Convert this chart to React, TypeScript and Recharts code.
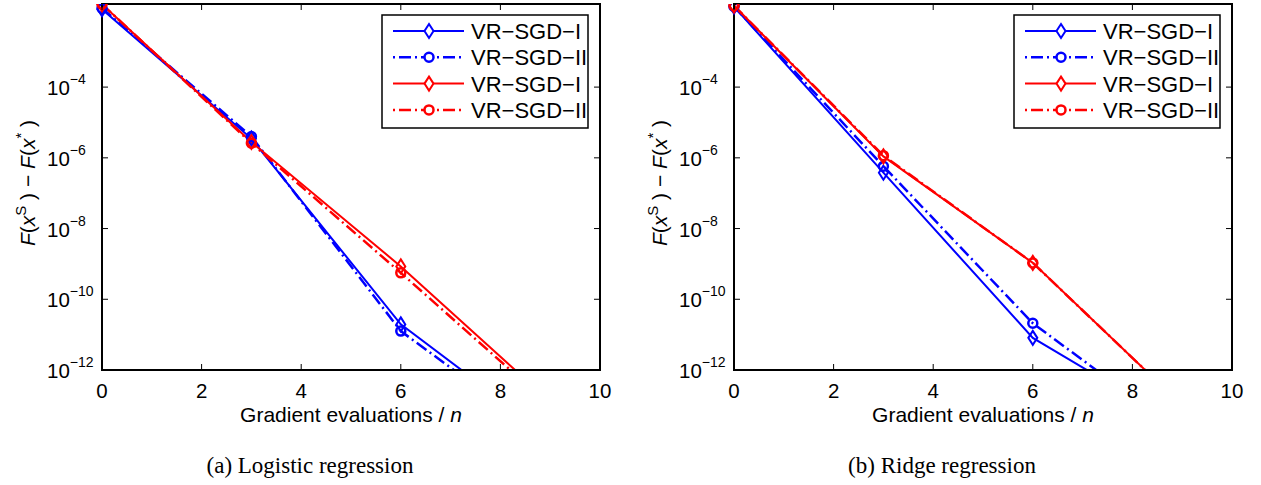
import React from "react";
import { LineChart, Line, XAxis, YAxis, ReferenceArea, Legend } from "recharts";

// x positions (gradient evaluations / n) where each method was recorded
const EPOCHS = [0, 3, 6, 9];

// (a) logistic regression, F(x^s) - F(x*)
const LOGISTIC_BLUE_I = [1.6e-2, 3.5e-6, 1.95e-11, 1.3e-14];
const LOGISTIC_BLUE_II = [1.7e-2, 4.0e-6, 1.26e-11, 1.0e-14];
const LOGISTIC_RED_I = [2.2e-2, 2.8e-6, 8.5e-10, 1.26e-13];
const LOGISTIC_RED_II = [2.2e-2, 2.6e-6, 5.6e-10, 1.0e-13];

// (b) ridge regression
const RIDGE_BLUE_I = [1.9e-2, 3.8e-7, 8.1e-12, 2.5e-14];
const RIDGE_BLUE_II = [1.9e-2, 5.8e-7, 2.1e-11, 1.6e-14];
const RIDGE_RED_I = [2.0e-2, 1.1e-6, 1.07e-9, 1.0e-13];
const RIDGE_RED_II = [2.0e-2, 1.15e-6, 1.07e-9, 1.0e-13];

const X_TICKS = [0, 2, 4, 6, 8, 10];
const Y_TICKS = [1e-12, 1e-10, 1e-8, 1e-6, 1e-4];
const Y_MIN = 1e-12;
const Y_MAX = 2.24e-2;

const SERIES = [
  { key: "blueI", name: "VR\u2212SGD\u2212I", color: "#0000ff", dash: undefined, marker: "diamond" },
  { key: "blueII", name: "VR\u2212SGD\u2212II", color: "#0000ff", dash: "12 4 2 4", marker: "circle" },
  { key: "redI", name: "VR\u2212SGD\u2212I", color: "#ff0000", dash: undefined, marker: "diamond" },
  { key: "redII", name: "VR\u2212SGD\u2212II", color: "#ff0000", dash: "12 4 2 4", marker: "circle" },
];

const buildRows = (blueI: number[], blueII: number[], redI: number[], redII: number[]) =>
  EPOCHS.map((x, i) => ({ x, blueI: blueI[i], blueII: blueII[i], redI: redI[i], redII: redII[i] }));

const logisticData = buildRows(LOGISTIC_BLUE_I, LOGISTIC_BLUE_II, LOGISTIC_RED_I, LOGISTIC_RED_II);
const ridgeData = buildRows(RIDGE_BLUE_I, RIDGE_BLUE_II, RIDGE_RED_I, RIDGE_RED_II);

const FONT = "'Liberation Sans', Arial, sans-serif";
const CHART_W = 620;
const CHART_H = 440;
const MARGIN = { top: 4, right: 20, bottom: 40, left: 42 };
const Y_AXIS_W = 60;
const X_AXIS_H = 30;
const PLOT_LEFT = MARGIN.left + Y_AXIS_W;
const PLOT_RIGHT = CHART_W - MARGIN.right;
const PLOT_TOP = MARGIN.top;
const PLOT_BOTTOM = CHART_H - MARGIN.bottom - X_AXIS_H;
const TICK_LEN = 6;

function markerShape(kind: string, cx: number, cy: number, color: string, fill: string, key?: string) {
  if (kind === "diamond") {
    return (
      <path
        key={key}
        d={`M${cx},${cy - 7} L${cx + 4.5},${cy} L${cx},${cy + 7} L${cx - 4.5},${cy} Z`}
        fill={fill}
        stroke={color}
        strokeWidth={2}
      />
    );
  }
  return <circle key={key} cx={cx} cy={cy} r={4.5} fill={fill} stroke={color} strokeWidth={2.5} />;
}

const makeDot = (kind: string, color: string) => (props: any) => {
  const { cx, cy, index } = props;
  if (cx == null || cy == null || isNaN(cy)) return <g key={`e${index}`} />;
  return markerShape(kind, cx, cy, color, "none", `m${index}`);
};

const XTick = (props: any) => {
  const { x, payload } = props;
  return (
    <g>
      <line x1={x} x2={x} y1={PLOT_BOTTOM} y2={PLOT_BOTTOM - TICK_LEN} stroke="#000" />
      <line x1={x} x2={x} y1={PLOT_TOP} y2={PLOT_TOP + TICK_LEN} stroke="#000" />
      <text x={x} y={PLOT_BOTTOM + 28} textAnchor="middle" fontSize={20.5} fontFamily={FONT} fill="#000">
        {payload.value}
      </text>
    </g>
  );
};

const YTick = (props: any) => {
  const { y, payload } = props;
  const exp = Math.round(Math.log10(payload.value));
  return (
    <g>
      <line x1={PLOT_LEFT} x2={PLOT_LEFT + TICK_LEN} y1={y} y2={y} stroke="#000" />
      <line x1={PLOT_RIGHT} x2={PLOT_RIGHT - TICK_LEN} y1={y} y2={y} stroke="#000" />
      <text x={PLOT_LEFT - 55} y={y + 8} fontSize={20.5} fontFamily={FONT} fill="#000">
        10
        <tspan dy={-11} fontSize={14}>{`\u2212${Math.abs(exp)}`}</tspan>
      </text>
    </g>
  );
};

const XLabel = () => (
  <text x={(PLOT_LEFT + PLOT_RIGHT) / 2} y={422} textAnchor="middle" fontSize={21} fontFamily={FONT} fill="#000">
    Gradient evaluations /{" "}
    <tspan fontStyle="italic">n</tspan>
  </text>
);

const YLabel = () => (
  <text
    x={35}
    y={183}
    transform="rotate(-90, 35, 183)"
    textAnchor="middle"
    fontSize={21}
    fontFamily={FONT}
    fill="#000"
  >
    <tspan fontStyle="italic">F</tspan>(<tspan fontStyle="italic">x</tspan>
    <tspan dy={-9} fontSize={15}>S</tspan>
    <tspan dy={9}> ) {"\u2212"} </tspan>
    <tspan fontStyle="italic">F</tspan>(<tspan fontStyle="italic">x</tspan>
    <tspan dy={-9} fontSize={15}>*</tspan>
    <tspan dy={9}> )</tspan>
  </text>
);

const LEGEND_W = 208;
const LEGEND_H = 115;

const LegendBox = () => (
  <svg width={LEGEND_W} height={LEGEND_H} style={{ display: "block" }}>
    <rect x={1} y={1} width={LEGEND_W - 2} height={LEGEND_H - 2} fill="#fff" stroke="#000" strokeWidth={1.5} />
    {SERIES.map((s, i) => {
      const cy = 17 + i * 26.3;
      return (
        <g key={s.key}>
          <line
            x1={12}
            x2={83}
            y1={cy}
            y2={cy}
            stroke={s.color}
            strokeWidth={s.dash ? 2.5 : 2}
            strokeDasharray={s.dash}
            strokeDashoffset={s.dash ? 16 : undefined}
          />
          {markerShape(s.marker, 48, cy, s.color, "#fff")}
          <text x={90} y={cy + 8} fontSize={22} fontFamily={FONT} fill="#000">
            {s.name}
          </text>
        </g>
      );
    })}
  </svg>
);

function Panel({ left, data, caption }: { left: number; data: any[]; caption: string }) {
  return (
    <div style={{ position: "absolute", left, top: 0, width: CHART_W, height: 485 }}>
      <LineChart width={CHART_W} height={CHART_H} data={data} margin={MARGIN}>
        <XAxis
          type="number"
          dataKey="x"
          domain={[0, 10]}
          ticks={X_TICKS}
          interval={0}
          height={X_AXIS_H}
          tickLine={false}
          axisLine={{ stroke: "#000", strokeWidth: 2 }}
          tick={<XTick />}
          label={XLabel}
        />
        <YAxis
          type="number"
          scale="log"
          domain={[Y_MIN, Y_MAX]}
          allowDataOverflow
          ticks={Y_TICKS}
          interval={0}
          width={Y_AXIS_W}
          tickLine={false}
          axisLine={{ stroke: "#000", strokeWidth: 2 }}
          tick={<YTick />}
          label={YLabel}
        />
        <ReferenceArea x1={0} x2={10} y1={Y_MIN} y2={Y_MAX} fill="none" stroke="#000" strokeWidth={2} />
        {SERIES.map((s) => (
          <Line
            key={s.key}
            type="linear"
            dataKey={s.key}
            name={s.name}
            stroke={s.color}
            strokeWidth={s.dash ? 2.5 : 2}
            strokeDasharray={s.dash}
            dot={makeDot(s.marker, s.color)}
            activeDot={false}
            isAnimationActive={false}
          />
        ))}
        <Legend
          layout="vertical"
          align="center"
          verticalAlign="middle"
          content={<LegendBox />}
          wrapperStyle={{ left: PLOT_RIGHT - 11 - LEGEND_W, top: 14, width: LEGEND_W, height: LEGEND_H }}
        />
      </LineChart>
      <div
        style={{
          position: "absolute",
          left: 0,
          top: 454,
          width: CHART_W,
          textAlign: "center",
          fontFamily: "'Liberation Serif', 'Times New Roman', serif",
          fontSize: 23,
          lineHeight: "23px",
          color: "#000",
        }}
      >
        {caption}
      </div>
    </div>
  );
}

export default function App() {
  return (
    <div style={{ position: "absolute", left: 0, top: 0, width: 1261, height: 485, background: "#fff" }}>
      <Panel left={0} data={logisticData} caption="(a) Logistic regression" />
      <Panel left={632} data={ridgeData} caption="(b) Ridge regression" />
    </div>
  );
}
